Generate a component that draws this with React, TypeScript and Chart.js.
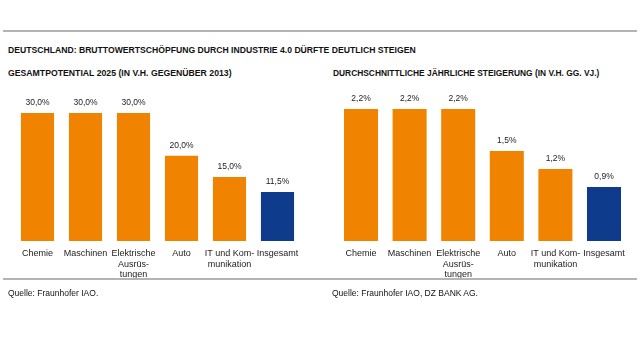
import React, { useEffect, useRef } from "react";
import { Chart, registerables } from "chart.js";
Chart.register(...registerables);

const categories: (string | string[])[] = [
  "Chemie",
  "Maschinen",
  ["Elektrische", "Ausrüs-", "tungen"],
  "Auto",
  ["IT und Kom-", "munikation"],
  "Insgesamt",
];
const potential2025 = [30.0, 30.0, 30.0, 20.0, 15.0, 11.5];
const annualGrowth = [2.2, 2.2, 2.2, 1.5, 1.2, 0.9];

const ORANGE = "#F08400";
const BLUE = "#0F3B8C";
const FONT = "'Liberation Sans', Arial, sans-serif";

const fmt = (v: number) => v.toFixed(1).replace(".", ",") + "%";

const valueLabels = {
  id: "valueLabels",
  afterDatasetsDraw(chart: any) {
    const ctx = chart.ctx;
    const meta = chart.getDatasetMeta(0);
    const data = chart.data.datasets[0].data as number[];
    ctx.save();
    ctx.font = `8.5px ${FONT}`;
    ctx.fillStyle = "#222";
    ctx.textAlign = "center";
    ctx.textBaseline = "middle";
    meta.data.forEach((bar: any, i: number) => {
      ctx.fillText(fmt(data[i]), bar.x, bar.y - 10);
    });
    ctx.restore();
  },
};

function BarChart(props: {
  values: number[];
  max: number;
  padding: { left: number; right: number; top: number; bottom: number };
  barPct: number;
}) {
  const ref = useRef<HTMLCanvasElement>(null);
  useEffect(() => {
    if (!ref.current) return;
    const colors = props.values.map((_, i) => (i === props.values.length - 1 ? BLUE : ORANGE));
    const chart = new Chart(ref.current, {
      type: "bar",
      data: {
        labels: categories,
        datasets: [
          {
            data: props.values,
            backgroundColor: colors,
            borderWidth: 0,
            barPercentage: props.barPct,
            categoryPercentage: 1,
          },
        ],
      },
      options: {
        animation: false,
        responsive: false,
        maintainAspectRatio: false,
        layout: { padding: props.padding },
        plugins: { legend: { display: false }, tooltip: { enabled: false } },
        scales: {
          x: {
            grid: { display: false, drawTicks: false },
            border: { display: false },
            ticks: {
              color: "#222",
              font: { family: FONT, size: 9 },
              padding: 7,
              maxRotation: 0,
              autoSkip: false,
            },
            afterFit: (scale: any) => {
              scale.height = 49;
            },
          },
          y: { display: false, min: 0, max: props.max },
        },
      },
      plugins: [valueLabels],
    });
    return () => chart.destroy();
  }, []);
  return <canvas ref={ref} width={320} height={200} style={{ display: "block", width: 320, height: 200 }} />;
}

export default function App() {
  const text = (s: string, left: number, top: number, bold: boolean, size: number) => (
    <div
      style={{
        position: "absolute",
        left,
        top,
        fontFamily: FONT,
        fontWeight: bold ? "bold" : "normal",
        fontSize: size,
        color: "#111",
        whiteSpace: "nowrap",
        lineHeight: "12px",
      }}
    >
      {s}
    </div>
  );
  return (
    <div style={{ position: "fixed", left: 0, top: 0, width: 640, height: 360, background: "#fff" }}>
      <div style={{ position: "absolute", left: 3, top: 30, width: 634, height: 2, background: "#b4b4b4" }} />
      {text("DEUTSCHLAND: BRUTTOWERTSCHÖPFUNG DURCH INDUSTRIE 4.0 DÜRFTE DEUTLICH STEIGEN", 8, 44, true, 8.65)}
      {text("GESAMTPOTENTIAL 2025 (IN V.H. GEGENÜBER 2013)", 8, 67, true, 8.7)}
      {text("DURCHSCHNITTLICHE JÄHRLICHE STEIGERUNG (IN V.H. GG. VJ.)", 333, 67, true, 8.4)}
      <div style={{ position: "absolute", left: 0, top: 90 }}>
        <BarChart values={potential2025} max={30} padding={{ left: 13.5, right: 18.5, top: 23, bottom: 0 }} barPct={0.69} />
      </div>
      <div style={{ position: "absolute", left: 320, top: 90 }}>
        <BarChart values={annualGrowth} max={2.2} padding={{ left: 16.7, right: 11.7, top: 19, bottom: 0 }} barPct={0.7} />
      </div>
      <div style={{ position: "absolute", left: 3, top: 278, width: 634, height: 2, background: "#b4b4b4" }} />
      {text("Quelle: Fraunhofer IAO.", 8, 287, false, 8.5)}
      {text("Quelle: Fraunhofer IAO, DZ BANK AG.", 332, 287, false, 8.5)}
    </div>
  );
}
